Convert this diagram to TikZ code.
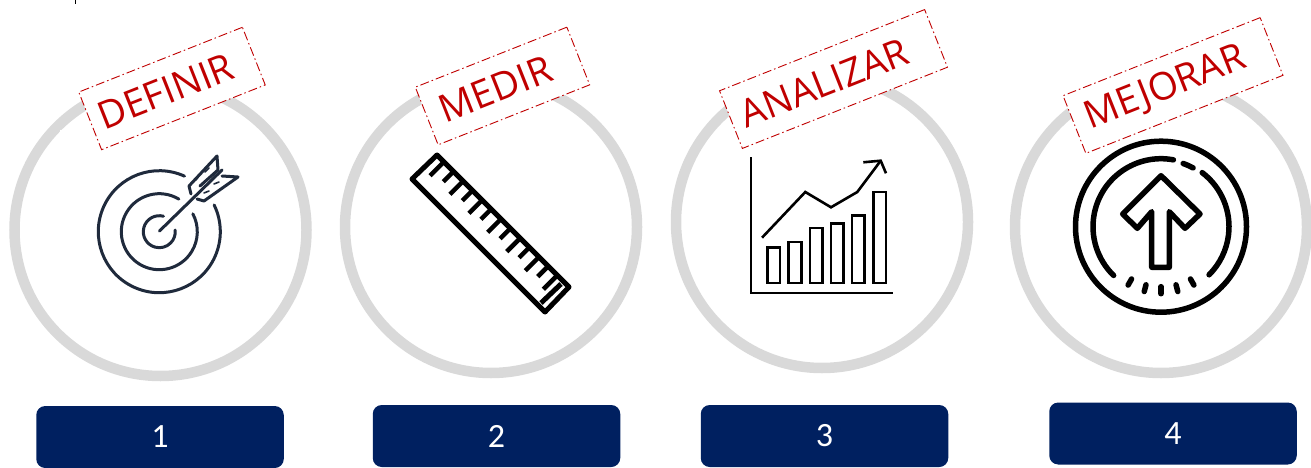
\documentclass[tikz,border=0pt]{standalone}
\usepackage{fontspec}
\setmainfont{Carlito}
\newfontfamily\tagfont{Open Sans}
\definecolor{ringgrey}{HTML}{D9D9D9}
\definecolor{tagred}{HTML}{C00000}
\definecolor{navy}{HTML}{002060}
\definecolor{targetink}{HTML}{1F2A3C}
\tikzset{
  ring/.style={draw=ringgrey,line width=10.5pt},
  tag/.style={draw=tagred,fill=white,line width=0.9pt,dash pattern=on 9pt off 3pt on 1.5pt off 3pt,
    text=tagred,minimum height=62pt,inner sep=0pt,rotate=21.6,font=\tagfont\fontsize{38.3}{40}\selectfont},
  numbox/.style={fill=navy,rounded corners=9pt,minimum width=247.5pt,minimum height=62pt,inner sep=0pt,
    text=white,font=\fontsize{34}{34}\selectfont},
  icon/.style={line width=3pt,line join=round,line cap=round},
}
\begin{document}
\begin{tikzpicture}[x=1pt,y=-1pt]
\useasboundingbox (0,0) rectangle (1311,468);
% stray tick at the top edge
\draw[line width=1pt] (75,0) -- (75,4);
% rings
\draw[ring] (160.5,230) circle[radius=146];
\draw[ring] (491,227) circle[radius=146];
\draw[ring] (822,222) circle[radius=146];
\draw[ring] (1161,227) circle[radius=146];
\fill[white] (60,130) rectangle (258,300);
% target icon
\begin{scope}[icon,draw=targetink]
\begin{scope}[shift={(159.3,231.7)},x=1pt,y=1pt]
\draw (65.6:61) arc[start angle=65.6,end angle=386,radius=61];
\draw (59:38) arc[start angle=59,end angle=388,radius=38];
\draw (75:16) arc[start angle=75,end angle=366,radius=16];
\end{scope}
\draw (159.5,231) -- (222,170);
\draw (191,194) -- (189,186) -- (217,156) -- (218,170) -- (200,186);
\draw (197,199) -- (204,201) -- (238,177) -- (222,176);
\draw[line width=1.6pt] (196,180) -- (200,174);
\draw[line width=1.6pt] (205,172) -- (209,168);
\draw[line width=1.6pt] (204,193) -- (209,191);
\draw[line width=1.6pt] (214,184) -- (219,182);
\end{scope}
% ruler icon
\begin{scope}[line width=5pt,line join=round,line cap=butt]
\draw (437,155) -- (569,287) -- (545,312) -- (412,179) -- cycle;
\foreach \ex/\ey/\tl in {430/175.7/13.7,443.3/181.7/10,450/194.3/13.7,462.3/200.7/10,469/213.3/13.7,481/219.3/10,487.7/232.3/13.7,500/238.7/10,506.7/251.7/13.7,519/257.7/10,525.3/270.7/13.7,537.7/276.7/10,543.3/289.3/13.7}
  \draw[line width=4.5pt] (\ex,\ey) -- (\ex+\tl,\ey-\tl);
\draw (541,303) -- (561,284);
\draw[white,line width=0.7pt] (545,305) -- (564,287);
\end{scope}
% chart icon
\begin{scope}[line width=2.6pt,line join=miter,black]
\draw (751,157) -- (751,293) -- (893,293);
\foreach \xa/\xb/\yt in {767.3/780/247.3,788.7/801.3/242,810/822.7/228,831/843.7/223.3,852/864.7/215.3,873.3/886/192}
  \draw (\xa,283) rectangle (\xb,\yt);
\draw (762,237.7) -- (805.3,192) -- (831,207.3) -- (857.3,192) -- (880.7,160.7);
\draw (863.3,162.3) -- (880.7,160.7) -- (886,173.3);
\end{scope}
% improve icon
\begin{scope}[line width=5.5pt,line join=round,line cap=round]
\begin{scope}[shift={(1161,226.7)},x=1pt,y=1pt]
\draw (0,0) circle[radius=85.5];
\draw (79.5:68) arc[start angle=79.5,end angle=225.8,radius=68];
\draw (52.7:68) arc[start angle=52.7,end angle=-45,radius=68];
\draw (70.6:67) arc[start angle=70.6,end angle=61.4,radius=67];
\foreach \a in {240.6,255.5,270,284.5,299.4}
  \draw (\a:60) -- (\a:67);
\end{scope}
\draw (1161,175.7) -- (1200,214) -- (1185,228.3) -- (1169.3,211.7) -- (1169.3,267.3) -- (1151.7,267.3) -- (1151.7,211.7) -- (1137.3,228.3) -- (1122.7,214) -- cycle;
\end{scope}
% tags
\node[tag,minimum width=176pt] (definir) at (172,88.5) {\hspace*{-14pt}DEFINIR};
\node[tag,minimum width=163pt] (medir) at (502.5,86) {\hspace*{-16pt}MEDIR};
\node[tag,minimum width=220.6pt] (analizar) at (833.5,79) {\hspace*{-20pt}ANALIZAR};
\node[tag,minimum width=212pt] (mejorar) at (1173,85.5) {\hspace*{-16pt}MEJORAR};
% numbered boxes
\node[numbox] (n1) at (160,437) {1};
\node[numbox] (n2) at (496.5,436) {2};
\node[numbox] (n3) at (824.5,436) {3};
\node[numbox] (n4) at (1173,433.5) {4};
\end{tikzpicture}
\end{document}
